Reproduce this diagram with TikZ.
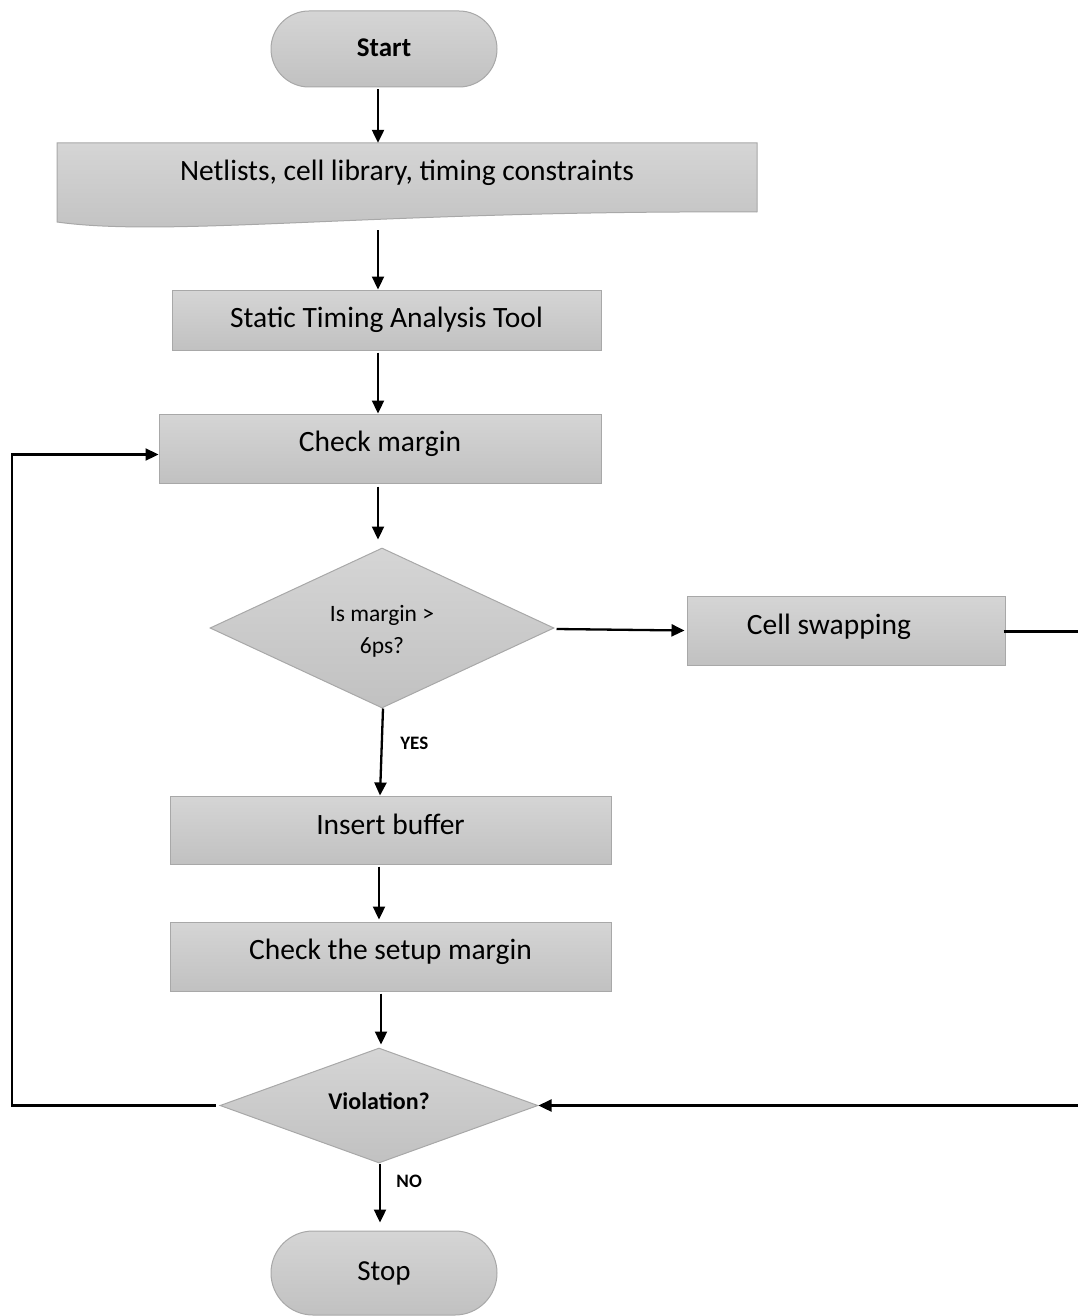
\documentclass[tikz,border=0pt]{standalone}
\usepackage{fontspec}
\setmainfont{Carlito}
\usetikzlibrary{shapes.geometric,shapes.misc,arrows.meta,calc}
\definecolor{boxtop}{HTML}{D5D5D5}
\definecolor{boxbot}{HTML}{C1C1C1}
\definecolor{boxline}{HTML}{A8A8A8}
% raise a label's ink without changing the size the node sees
\newcommand{\liftup}[2][5pt]{\raisebox{#1}[\height][\depth]{#2}}
\tikzset{
  boxshade/.style={top color=boxtop, bottom color=boxbot, draw=boxline, line width=1pt},
  procbox/.style={boxshade, rectangle, inner sep=0pt, font=\fontsize{29.5}{34}\selectfont},
  termbox/.style={boxshade, rounded rectangle, inner sep=0pt, minimum width=226pt},
  decbox/.style={boxshade, diamond, inner sep=0pt, aspect=2},
  flow/.style={line width=2.3pt, -{Triangle[length=13pt,width=12pt]}},
  edgelabel/.style={font=\fontsize{19}{22}\selectfont\bfseries}
}
\begin{document}
\begin{tikzpicture}[x=1pt,y=-1pt]
\useasboundingbox (0,0) rectangle (1077,1316);

% terminals
\node[termbox, minimum height=76pt, font=\fontsize{27}{30}\selectfont\bfseries] (start) at (384,49) {\liftup[1pt]{Start}};
\node[termbox, minimum height=84pt, font=\fontsize{29}{32}\selectfont] (stop) at (384,1273) {Stop};

% input document with wavy lower edge
\path[boxshade] (757,212) -- (757,143) -- (57,143) -- (57,222)
   .. controls (170,238) and (380,210) .. (757,212);
\node[inner sep=0pt, minimum width=700pt, minimum height=69pt, font=\fontsize{29.5}{34}\selectfont] (doc) at (407,177.5) {\liftup{Netlists, cell library, timing constraints}};

% process steps
\node[procbox, minimum width=429pt, minimum height=60pt] (sta) at (386.5,320) {Static Timing Analysis Tool};
\node[procbox, minimum width=442pt, minimum height=69pt] (check) at (380,448.5) {\liftup{Check margin}};
\node[procbox, minimum width=318pt, minimum height=69pt] (swap) at (846,630.5) {\liftup[4pt]{\hspace*{-34pt}Cell swapping}};
\node[procbox, minimum width=441pt, minimum height=68pt] (buffer) at (390.5,830) {\liftup[6pt]{Insert buffer}};
\node[procbox, minimum width=441pt, minimum height=69pt] (setup) at (390.5,956.5) {\liftup{Check the setup margin}};

% decisions
\node[decbox, minimum width=344pt, minimum height=160pt, align=center, font=\fontsize{23.5}{32}\selectfont] (margin) at (382,628) {\liftup[-3pt]{Is margin >}\\\liftup[-3pt]{6ps?}};
\node[decbox, minimum width=318pt, minimum height=115pt, font=\fontsize{24}{28}\selectfont\bfseries] (viol) at (379,1105.5) {\liftup[4pt]{Violation?}};

% main column of connectors
\coordinate (col) at (378,0);
\draw[flow] ($(start.south -| col)+(0,2)$) -- (doc.north -| col);
\draw[flow] ($(doc.south -| col)+(0,18)$) -- (sta.north -| col);
\draw[flow] ($(sta.south -| col)+(0,2)$) -- (check.north -| col);
\draw[flow] ($(check.south -| col)+(0,3)$) -- ($(margin.north -| col)+(0,-8)$);
\draw[flow] ($(margin.south)+(1,0)$) -- node[edgelabel, right, pos=0.4, xshift=14pt] {YES} ($(buffer.north -| col)+(2,0)$);
\draw[flow] ($(buffer.south -| col)+(1,2)$) -- ($(setup.north -| col)+(1,-2)$);
\draw[flow] ($(setup.south -| col)+(3,2)$) -- ($(viol.north -| col)+(3,-3)$);
\draw[flow] ($(viol.south -| col)+(2,0)$) -- node[edgelabel, right, pos=0.3, xshift=12pt] {NO} ($(stop.north -| col)+(2,-8)$);

% branch to cell swapping and back to the violation test
\draw[flow] ($(margin.east)+(2,1)$) -- ($(swap.west)+(-2,0)$);
\coordinate (rightrail) at (1086,0);
\draw[flow] ($(swap.east)+(-2,1)$) -- ($(swap.east -| rightrail)+(0,1)$) |- (viol.east);

% loop back to the margin check
\coordinate (leftrail) at (12,0);
\draw[flow] ($(viol.west)+(-4,0)$) -- (viol.west -| leftrail) |- ($(check.west)+(0,6)$);
\end{tikzpicture}
\end{document}
